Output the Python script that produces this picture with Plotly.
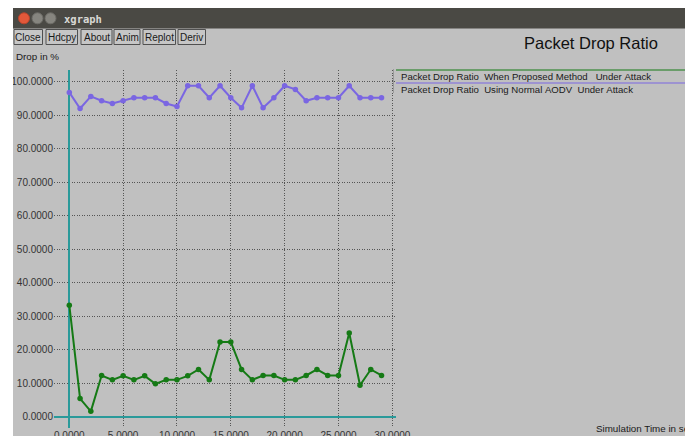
import plotly.graph_objects as go

# Simulation time (s) and packet drop ratio (%) for the two scenarios
sim_time = list(range(0, 30))
drop_proposed = [33.3, 5.4, 1.6, 12.3, 11.0, 12.2, 11.0, 12.2, 9.8, 11.0,
                 11.0, 12.2, 14.1, 11.0, 22.3, 22.3, 14.1, 11.0, 12.3, 12.3,
                 11.0, 11.0, 12.3, 14.1, 12.3, 12.3, 25.0, 9.4, 14.1, 12.3]
drop_aodv = [96.8, 92.0, 95.6, 94.3, 93.5, 94.3, 95.2, 95.2, 95.2, 93.5,
             92.6, 98.8, 98.8, 95.2, 98.8, 95.2, 92.2, 98.8, 92.2, 95.2,
             98.8, 97.7, 94.3, 95.2, 95.2, 95.2, 98.8, 95.2, 95.2, 95.2]
x_ticks = [0, 5, 10, 15, 20, 25, 30]
y_ticks = [0, 10, 20, 30, 40, 50, 60, 70, 80, 90, 100]
series_names = ["Packet Drop Ratio  When Proposed Method   Under Attack",
                "Packet Drop Ratio  Using Normal AODV  Under Attack"]

W, H = 685, 436
L, R, T, B = 54, 396, 70, 428   # plot area in pixels

GREEN = "#157a15"
BLUE = "#7a66e2"
TEAL = "#2a9a9a"
BG = "#c0c0c0"
UI_FONT = "Liberation Sans"


def px(x):
    return (x - L) / (R - L)


def py(y):
    return (B - y) / (B - T)


fig = go.Figure()
fig.add_trace(go.Scatter(x=sim_time, y=drop_proposed, mode="lines+markers",
                         line=dict(color=GREEN, width=2),
                         marker=dict(color=GREEN, size=5.5),
                         name=series_names[0]))
fig.add_trace(go.Scatter(x=sim_time, y=drop_aodv, mode="lines+markers",
                         line=dict(color=BLUE, width=2),
                         marker=dict(color=BLUE, size=5.5),
                         name=series_names[1]))

shapes = []
annotations = []

# white outer border and window title bar
shapes.append(dict(type="rect", xref="paper", yref="paper", x0=px(0), x1=px(13),
                   y0=py(0), y1=py(H), fillcolor="white", line_width=0, layer="above"))
shapes.append(dict(type="rect", xref="paper", yref="paper", x0=px(0), x1=px(W),
                   y0=py(0), y1=py(8), fillcolor="white", line_width=0, layer="above"))
shapes.append(dict(type="rect", xref="paper", yref="paper", x0=px(13), x1=px(W),
                   y0=py(8), y1=py(28.5), fillcolor="#4a4944", line_width=0, layer="above"))
for cx, col, edge in [(24, "#e2583a", "#b8442c"), (37.5, "#86857f", "#6e6d68"),
                      (50.5, "#86857f", "#6e6d68")]:
    shapes.append(dict(type="circle", xref="paper", yref="paper",
                       x0=px(cx - 5.5), x1=px(cx + 5.5), y0=py(12.8), y1=py(23.8),
                       fillcolor=col, line=dict(color=edge, width=1), layer="above"))
annotations.append(dict(text="<b>xgraph</b>", xref="paper", yref="paper",
                        x=px(62), y=py(18.5), xanchor="left", yanchor="middle",
                        showarrow=False,
                        font=dict(family="DejaVu Sans Mono", size=10.5, color="#d8d8d4")))

# toolbar buttons
buttons = [("Close", 14, 42.5), ("Hdcpy", 46, 77.5), ("About", 81, 112),
           ("Anim", 114, 140), ("Replot", 143, 175.5), ("Deriv", 178, 205.5)]
for label, bx0, bx1 in buttons:
    shapes.append(dict(type="rect", xref="paper", yref="paper",
                       x0=px(bx0), x1=px(bx1), y0=py(29.5), y1=py(44.5),
                       fillcolor="#c6c6c6", line=dict(color="#505050", width=1),
                       layer="above"))
    annotations.append(dict(text=label, xref="paper", yref="paper",
                            x=px((bx0 + bx1) / 2), y=py(37.2), xanchor="center",
                            yanchor="middle", showarrow=False,
                            font=dict(family=UI_FONT, size=10, color="#1a1a1a")))

# y axis caption, chart title and x axis caption
annotations.append(dict(text="Drop in %", xref="paper", yref="paper", x=px(14), y=py(56.5),
                        xanchor="left", yanchor="middle", showarrow=False,
                        font=dict(family=UI_FONT, size=9.8, color="#1a1a1a")))
annotations.append(dict(text="Packet Drop Ratio", xref="paper", yref="paper",
                        x=px(522), y=py(43), xanchor="left", yanchor="middle",
                        showarrow=False,
                        font=dict(family=UI_FONT, size=16.5, color="#111111")))
annotations.append(dict(text="Simulation Time in seconds", xref="paper", yref="paper",
                        x=px(594), y=py(428), xanchor="left", yanchor="middle",
                        showarrow=False,
                        font=dict(family=UI_FONT, size=9.8, color="#1a1a1a")))

# legend: coloured rule above each series name
shapes.append(dict(type="line", xref="paper", yref="paper", x0=px(393.5), x1=px(393.5),
                   y0=py(69), y1=py(93), line=dict(color="#9a9a9a", width=1), layer="above"))
for i, (name, col) in enumerate(zip(series_names, [GREEN, BLUE])):
    ly = 70 + i * 13
    shapes.append(dict(type="line", xref="paper", yref="paper", x0=px(396), x1=px(W + 5),
                       y0=py(ly), y1=py(ly), line=dict(color=col, width=1), layer="above"))
    annotations.append(dict(text=name.replace(" ", "\u00a0"), xref="paper", yref="paper",
                            x=px(398.5), y=py(ly + 6), xanchor="left", yanchor="middle",
                            showarrow=False,
                            font=dict(family=UI_FONT, size=9.6, color="#1a1a1a")))

x_per_px = 30 / (392.3 - 69.3)
y_per_px = 100 / (416.7 - 81.7)

axis_common = dict(ticks="", tickformat=".4f",
                   showgrid=True, gridcolor="#555555", griddash="1px,1.5px", gridwidth=1,
                   zeroline=True, zerolinecolor=TEAL, zerolinewidth=2,
                   showline=False, automargin=False,
                   tickfont=dict(family=UI_FONT, size=10, color="#333333"))

fig.update_layout(
    width=W, height=H,
    margin=dict(l=L, r=W - R, t=T, b=H - B, pad=0),
    paper_bgcolor=BG, plot_bgcolor=BG,
    showlegend=False,
    shapes=shapes, annotations=annotations,
    xaxis=dict(range=[(L - 69.3) * x_per_px, (R - 69.3) * x_per_px],
               tickvals=x_ticks, **axis_common),
    yaxis=dict(range=[(416.7 - B) * y_per_px, (416.7 - T) * y_per_px],
               tickvals=y_ticks, **axis_common),
)

fig.write_html("out.html")
